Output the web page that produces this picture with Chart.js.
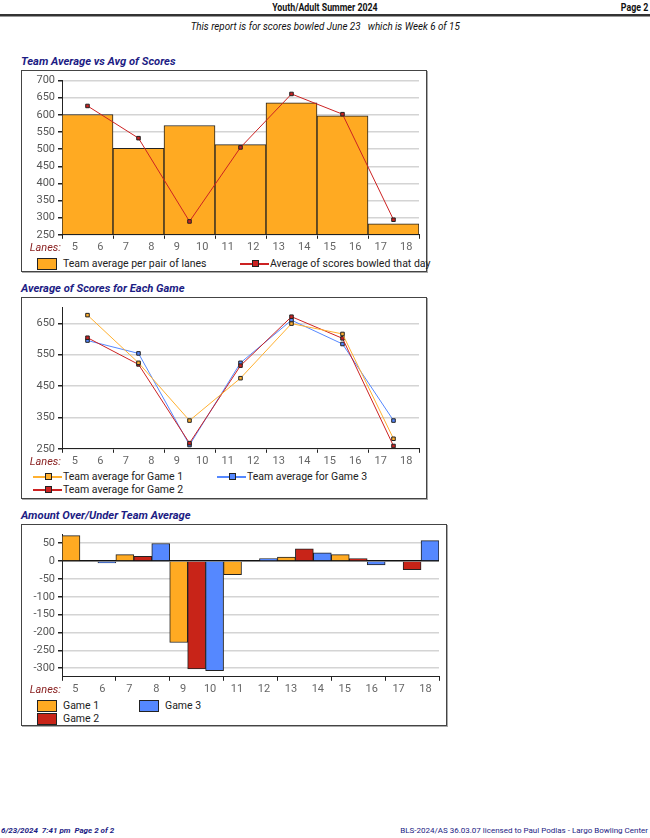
<!DOCTYPE html>
<html>
<head>
<meta charset="utf-8">
<script src="https://cdn.jsdelivr.net/npm/chart.js@4.4.1/dist/chart.umd.min.js"></script>
<style>
  body { margin: 0; width: 650px; height: 838px; position: relative; font-family: Roboto, "Noto Sans", sans-serif; background: #fff; overflow: hidden; }
  .hdr { position: absolute; top: 1px; left: 0; width: 650px; height: 13px; font-family: Roboto, sans-serif; font-weight: bold; font-size: 11px; color: #111; }
  .hdr .c { position: absolute; left: 0; width: 650px; text-align: center; }
  .hdr .c span, .hdr .r { display: inline-block; transform: scaleX(0.8); }
  .hdr .c span { transform-origin: center; }
  .hdr .r { position: absolute; right: 2px; transform-origin: right; }
  .rule { position: absolute; top: 14px; left: 0; width: 650px; height: 0; border-top: 2px solid #333; border-bottom: 1px solid #999; }
  .sub { position: absolute; top: 20px; left: 0; width: 650px; text-align: center; font-style: italic; font-size: 11px; color: #111; }
  .sub span { display: inline-block; transform: scaleX(0.89); }
  .title { position: absolute; left: 21px; font-weight: bold; font-style: italic; font-size: 11.2px; color: #1c1c84; }
  .frame { position: absolute; left: 21px; border: 1px solid #444; box-shadow: 1px 1px 0 #aaa; background: #fff; }
  .frame canvas { position: absolute; left: 0; top: 0; }
  .lg { position: absolute; font-size: 10.5px; color: #222; white-space: nowrap; height: 13px; line-height: 13px; }
  .box { position: absolute; top: 1px; left: 0; width: 18px; height: 10px; border: 1px solid #222; }
  .ln { position: absolute; top: 6px; left: 0; width: 29px; height: 1.5px; }
  .sq { position: absolute; top: 3px; left: 12px; width: 5px; height: 5px; border: 1px solid #222; }
  .foot { position: absolute; top: 826px; font-size: 8px; color: #1c1c84; }
</style>
</head>
<body>
<div class="hdr"><div class="c"><span>Youth/Adult Summer 2024</span></div><span class="r">Page 2</span></div>
<div class="rule"></div>
<div class="sub"><span>This report is for scores bowled June 23&nbsp;&nbsp; which is Week 6 of 15</span></div>

<div class="title" style="top:55px">Team Average vs Avg of Scores</div>
<div class="frame" style="top:70px; width:404px; height:200px">
  <canvas id="c1" width="404" height="185"></canvas>
  <div class="lg" style="left:15px; top:186px"><span class="box" style="background:#ffaa22"></span><span style="padding-left:26px">Team average per pair of lanes</span></div>
  <div class="lg" style="left:218px; top:186px"><span class="ln" style="background:#cc2222"></span><span class="sq" style="background:#cc2222"></span><span style="padding-left:30px">Average of scores bowled that day</span></div>
</div>

<div class="title" style="top:282px">Average of Scores for Each Game</div>
<div class="frame" style="top:297px; width:404px; height:200px">
  <canvas id="c2" width="404" height="172"></canvas>
  <div class="lg" style="left:11px; top:172px"><span class="ln" style="background:#ffb030"></span><span class="sq" style="background:#ffb030"></span><span style="padding-left:30px">Team average for Game 1</span></div>
  <div class="lg" style="left:195px; top:172px"><span class="ln" style="background:#5588ff"></span><span class="sq" style="background:#5588ff"></span><span style="padding-left:30px">Team average for Game 3</span></div>
  <div class="lg" style="left:11px; top:185px"><span class="ln" style="background:#cc2222"></span><span class="sq" style="background:#cc2222"></span><span style="padding-left:30px">Team average for Game 2</span></div>
</div>

<div class="title" style="top:509px">Amount Over/Under Team Average</div>
<div class="frame" style="top:524px; width:424px; height:200px">
  <canvas id="c3" width="424" height="173"></canvas>
  <div class="lg" style="left:15px; top:174px"><span class="box" style="background:#ffaa22"></span><span style="padding-left:26px">Game 1</span></div>
  <div class="lg" style="left:117px; top:174px"><span class="box" style="background:#5588ff"></span><span style="padding-left:26px">Game 3</span></div>
  <div class="lg" style="left:15px; top:187px"><span class="box" style="background:#c82418"></span><span style="padding-left:26px">Game 2</span></div>
</div>

<div class="foot" style="left:1px; font-weight:bold; font-style:italic">6/23/2024&nbsp; 7:41 pm&nbsp; Page 2 of 2</div>
<div class="foot" style="right:2px">BLS-2024/AS 36.03.07 licensed to Paul Podlas - Largo Bowling Center</div>

<script>
// lanes shown along the bottom, one pair of lanes per team
var lanes = ['5', '6', '7', '8', '9', '10', '11', '12', '13', '14', '15', '16', '17', '18'];
var pairX = [1, 3, 5, 7, 9, 11, 13];
var pairEdges = [0, 2, 4, 6, 8, 10, 12, 14];

var teamAvg = [601, 502, 569, 513, 635, 597, 282];
var dayAvg = [626, 532, 289, 505, 661, 602, 294];

var game1 = [676, 524, 340, 475, 649, 616, 282];
var game2 = [604, 519, 268, 515, 671, 602, 259];
var game3 = [595, 554, 262, 524, 660, 584, 340];

var over1 = [71, 18, -228, -38, 11, 18, 0];
var over2 = [0, 13, -302, 0, 34, 7, -24];
var over3 = [-5, 49, -307, 7, 23, -11, 57];

var ticks1 = [250, 300, 350, 400, 450, 500, 550, 600, 650, 700];
var ticks2 = [250, 350, 450, 550, 650];
var ticks3 = [50, 0, -50, -100, -150, -200, -250, -300];

var orange = '#ffaa22', red = '#cc2222', blue = '#5588ff';

function pts(vals) {
	return pairX.map(function (x, i) { return { x: x, y: vals[i] }; });
}

var lanesLabel = {
	id: 'lanesLabel',
	afterDraw: function (chart) {
		var s = chart.scales.x2, ctx = chart.ctx;
		ctx.save();
		ctx.font = 'italic 11px Roboto';
		ctx.fillStyle = '#8b2323';
		ctx.textAlign = 'right';
		ctx.textBaseline = 'middle';
		ctx.fillText('Lanes:', chart.chartArea.left - 1, s.top + 2 + (s.height - 2) / 2);
		ctx.restore();
	}
};

function scales(yMin, yMax, yTicks, zeroLine) {
	return {
		x: {
			type: 'linear', min: 0, max: 14, weight: 0, offset: false,
			afterBuildTicks: function (s) { s.ticks = pairEdges.map(function (v) { return { value: v }; }); },
			ticks: { display: false },
			grid: { offset: false, drawOnChartArea: false, tickLength: 4, tickColor: '#222', color: '#222' },
			border: { color: '#222', width: 1 }
		},
		x2: {
			type: 'category', labels: lanes, offset: true, position: 'bottom', weight: 1,
			grid: { display: false, drawTicks: false },
			border: { display: false },
			ticks: { padding: 2, color: '#666', font: { family: 'Roboto', size: 11 }, autoSkip: false, maxRotation: 0 }
		},
		y: {
			min: yMin, max: yMax,
			afterBuildTicks: function (s) { s.ticks = yTicks.map(function (v) { return { value: v }; }); },
			afterFit: function (s) { s.width = 40; },
			ticks: { padding: 3, color: '#555', font: { family: 'Roboto', size: 11 } },
			grid: {
				tickLength: 4, tickColor: '#222', lineWidth: 1.5,
				color: function (c) { return (zeroLine && c.tick && c.tick.value === 0) ? '#111' : '#d4d4d4'; }
			},
			border: { color: '#222', width: 1 }
		}
	};
}

var common = {
	responsive: false,
	animation: false,
	layout: { padding: { top: 7, right: 7, left: 0, bottom: 0 } },
	plugins: { legend: { display: false }, tooltip: { enabled: false } }
};

function lineSet(label, vals, color) {
	return {
		type: 'line', label: label, data: pts(vals),
		borderColor: color, borderWidth: 1, tension: 0,
		pointStyle: 'rect', pointRadius: 2.5, pointBorderWidth: 1,
		pointBorderColor: '#222', pointBackgroundColor: color
	};
}

new Chart(document.getElementById('c1'), {
	type: 'bar',
	data: {
		datasets: [
			{ type: 'bar', label: 'Team average per pair of lanes', data: pts(teamAvg), base: 250,
			  backgroundColor: orange, borderColor: '#222', borderWidth: 1,
			  barPercentage: 1, categoryPercentage: 1, order: 2 },
			Object.assign(lineSet('Average of scores bowled that day', dayAvg, red), { order: 1 })
		]
	},
	options: Object.assign({}, common, { scales: scales(250, 700, ticks1, false) }),
	plugins: [lanesLabel]
});

new Chart(document.getElementById('c2'), {
	type: 'line',
	data: {
		datasets: [
			lineSet('Team average for Game 1', game1, '#ffb030'),
			lineSet('Team average for Game 2', game2, red),
			lineSet('Team average for Game 3', game3, blue)
		]
	},
	options: Object.assign({}, common, { scales: scales(250, 700, ticks2, false) }),
	plugins: [lanesLabel]
});

function barSet(label, vals, color) {
	return {
		label: label, data: pts(vals), backgroundColor: color,
		borderColor: '#222', borderWidth: 1, barPercentage: 1, categoryPercentage: 1
	};
}

new Chart(document.getElementById('c3'), {
	type: 'bar',
	data: {
		datasets: [
			barSet('Game 1', over1, orange),
			barSet('Game 2', over2, '#c82418'),
			barSet('Game 3', over3, blue)
		]
	},
	options: Object.assign({}, common, {
		layout: { padding: { top: 8, right: 7, left: 0, bottom: 0 } },
		scales: scales(-324, 74, ticks3, true)
	}),
	plugins: [lanesLabel]
});
</script>
</body>
</html>
